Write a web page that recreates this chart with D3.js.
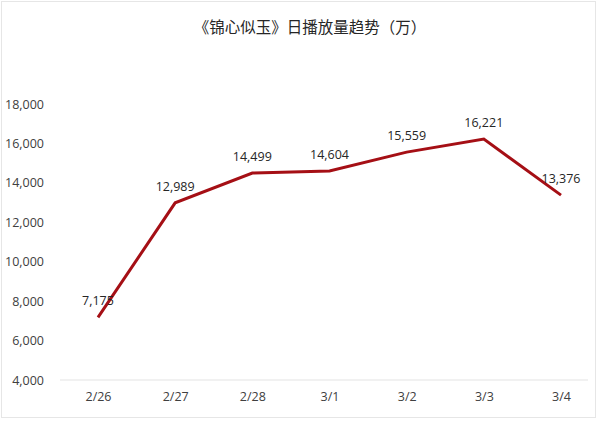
<!DOCTYPE html>
<html>
<head>
<meta charset="utf-8">
<script src="https://cdn.jsdelivr.net/npm/d3@7"></script>
<style>
  body { margin: 0; background: #fff; }
  text { font-family: "Open Sans", "Noto Sans", "Noto Sans CJK SC", sans-serif; }
</style>
</head>
<body>
<script>
// data
const dates = ["2/26", "2/27", "2/28", "3/1", "3/2", "3/3", "3/4"];
const plays = [7175, 12989, 14499, 14604, 15559, 16221, 13376];
const yTicks = [4000, 6000, 8000, 10000, 12000, 14000, 16000, 18000];
const title = "《锦心似玉》日播放量趋势（万）";

const W = 600, H = 421;
const svg = d3.select("body").append("svg")
    .attr("width", W)
    .attr("height", H);

// light frame round the picture
svg.append("rect")
    .attr("x", 1.5).attr("y", 1.5)
    .attr("width", W - 6).attr("height", H - 5)
    .attr("fill", "#fff")
    .attr("stroke", "#e6e6e6");

const x = d3.scalePoint().domain(dates).range([98, 561]);
const y = d3.scaleLinear().domain([4000, 18000]).range([380, 104]);

svg.append("text")
    .attr("x", 310).attr("y", 33)
    .attr("text-anchor", "middle")
    .style("font-family", "'Noto Sans CJK SC', sans-serif")
    .style("font-size", "15.5px")
    .attr("fill", "#262626")
    .text(title);

// y axis labels, no line
const yAxis = svg.append("g")
    .attr("transform", "translate(44,0)")
    .call(d3.axisLeft(y).tickValues(yTicks).tickSize(0).tickPadding(0).tickFormat(d3.format(",")));
yAxis.select(".domain").remove();
yAxis.selectAll("text")
    .style("font-size", "12.5px")
    .attr("fill", "#404040");

// baseline
svg.append("line")
    .attr("x1", 60).attr("x2", 588)
    .attr("y1", y(4000)).attr("y2", y(4000))
    .attr("stroke", "#e3e3e3")
    .attr("stroke-width", 1);

// x axis labels
const xAxis = svg.append("g")
    .attr("transform", "translate(0," + y(4000) + ")")
    .call(d3.axisBottom(x).tickSize(0).tickPadding(12));
xAxis.select(".domain").remove();
xAxis.selectAll("text")
    .style("font-size", "12.5px")
    .attr("fill", "#404040");

const line = d3.line()
    .x((d, i) => x(dates[i]))
    .y(d => y(d));

svg.append("path")
    .datum(plays)
    .attr("d", line)
    .attr("fill", "none")
    .attr("stroke", "#a50f15")
    .attr("stroke-width", 3)
    .attr("stroke-linejoin", "miter");

svg.selectAll("text.lbl")
    .data(plays)
    .enter()
    .append("text")
    .attr("class", "lbl")
    .attr("x", (d, i) => x(dates[i]))
    .attr("y", d => y(d) - 12)
    .attr("text-anchor", "middle")
    .style("font-size", "12.5px")
    .attr("fill", "#262626")
    .text(d => d3.format(",")(d));
</script>
</body>
</html>
